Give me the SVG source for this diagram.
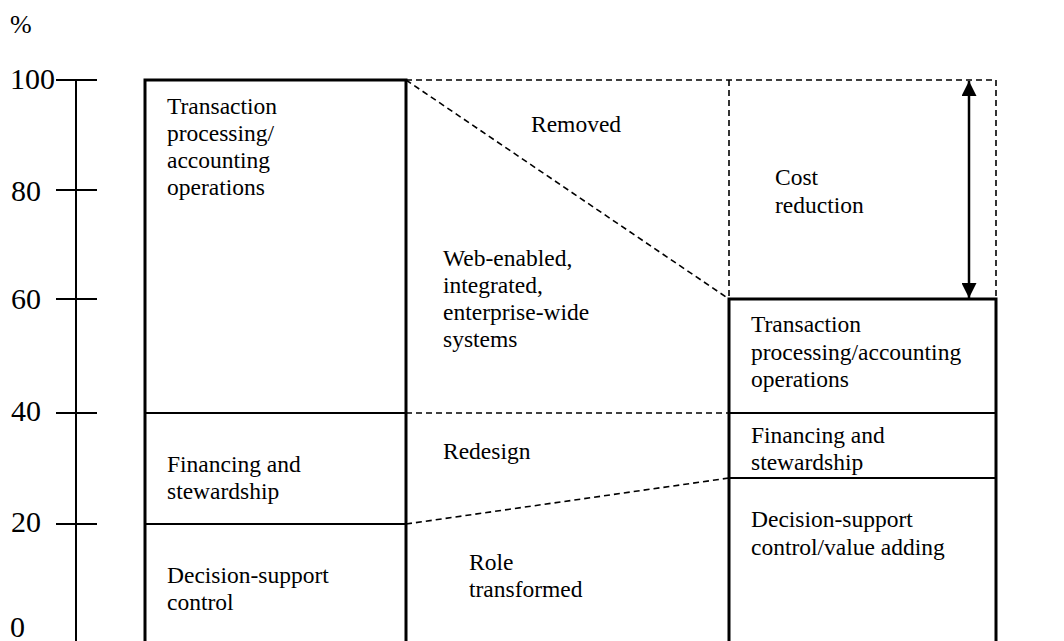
<svg xmlns="http://www.w3.org/2000/svg" width="1064" height="641" viewBox="0 0 1064 641">
<defs>
<marker id="ah" viewBox="0 0 10 10" refX="10" refY="5" markerWidth="16" markerHeight="15" markerUnits="userSpaceOnUse" orient="auto-start-reverse">
<path d="M0,0 L10,5 L0,10 Z" fill="#000"/>
</marker>
<style>
text{font-family:"Liberation Serif","Times New Roman",serif;fill:#000}
.t{font-size:23.5px}
.n{font-size:30px}
.thick{stroke:#000;stroke-width:3;fill:none}
.thin{stroke:#000;stroke-width:2;fill:none}
.dash{stroke:#000;stroke-width:1.6;fill:none;stroke-dasharray:6 4}
</style>
</defs>
<rect width="1064" height="641" fill="#fff"/>
<g id="axis">
<line class="thin" x1="76" y1="80" x2="76" y2="641"/>
<line class="thin" x1="56" y1="80" x2="97" y2="80"/>
<line class="thin" x1="56" y1="190" x2="97" y2="190"/>
<line class="thin" x1="56" y1="299" x2="97" y2="299"/>
<line class="thin" x1="56" y1="413" x2="97" y2="413"/>
<line class="thin" x1="56" y1="524" x2="97" y2="524"/>
<text class="n" x="10" y="33" style="font-size:26px">%</text>
<text class="n" x="10" y="89">100</text>
<text class="n" x="11" y="201">80</text>
<text class="n" x="11" y="309">60</text>
<text class="n" x="11" y="421">40</text>
<text class="n" x="11" y="532">20</text>
<text class="n" x="10" y="637">0</text>
</g>
<g id="connectors">
<line class="dash" x1="406" y1="80" x2="996" y2="80"/>
<line class="dash" x1="406" y1="80" x2="729" y2="299"/>
<line class="dash" x1="729" y1="80" x2="729" y2="299"/>
<line class="dash" x1="996" y1="80" x2="996" y2="299"/>
<line class="dash" x1="406" y1="413" x2="729" y2="413"/>
<line class="dash" x1="406" y1="524" x2="729" y2="478"/>
<line stroke="#000" stroke-width="2.5" x1="969" y1="81" x2="969" y2="298" marker-start="url(#ah)" marker-end="url(#ah)"/>
</g>
<g id="left-bar">
<path class="thick" d="M145,641 V80 H406 V641"/>
<line class="thin" x1="145" y1="413" x2="406" y2="413"/>
<line class="thin" x1="145" y1="524" x2="406" y2="524"/>
<g id="left-tp">
<text class="t"><tspan x="167" y="114">Transaction</tspan><tspan x="167" y="141">processing/</tspan><tspan x="167" y="168">accounting</tspan><tspan x="167" y="195">operations</tspan></text>
</g>
<g id="left-fs">
<text class="t"><tspan x="167" y="472">Financing and</tspan><tspan x="167" y="499">stewardship</tspan></text>
</g>
<g id="left-ds">
<text class="t"><tspan x="167" y="583">Decision-support</tspan><tspan x="167" y="610">control</tspan></text>
</g>
</g>
<g id="removed">
<text class="t" x="531" y="132">Removed</text>
</g>
<g id="web">
<text class="t"><tspan x="443" y="266">Web-enabled,</tspan><tspan x="443" y="293">integrated,</tspan><tspan x="443" y="320">enterprise-wide</tspan><tspan x="443" y="347">systems</tspan></text>
</g>
<g id="cost">
<text class="t"><tspan x="775" y="185">Cost</tspan><tspan x="775" y="213">reduction</tspan></text>
</g>
<g id="redesign">
<text class="t" x="443" y="459">Redesign</text>
</g>
<g id="role">
<text class="t"><tspan x="469" y="570">Role</tspan><tspan x="469" y="597">transformed</tspan></text>
</g>
<g id="right-bar">
<path class="thick" d="M729,641 V299 H996 V641"/>
<line class="thin" x1="729" y1="413" x2="996" y2="413"/>
<line class="thin" x1="729" y1="478" x2="996" y2="478"/>
<g id="right-tp">
<text class="t"><tspan x="751" y="332">Transaction</tspan><tspan x="751" y="360">processing/accounting</tspan><tspan x="751" y="387">operations</tspan></text>
</g>
<g id="right-fs">
<text class="t"><tspan x="751" y="443">Financing and</tspan><tspan x="751" y="470">stewardship</tspan></text>
</g>
<g id="right-ds">
<text class="t"><tspan x="751" y="527">Decision-support</tspan><tspan x="751" y="555">control/value adding</tspan></text>
</g>
</g>
</svg>
